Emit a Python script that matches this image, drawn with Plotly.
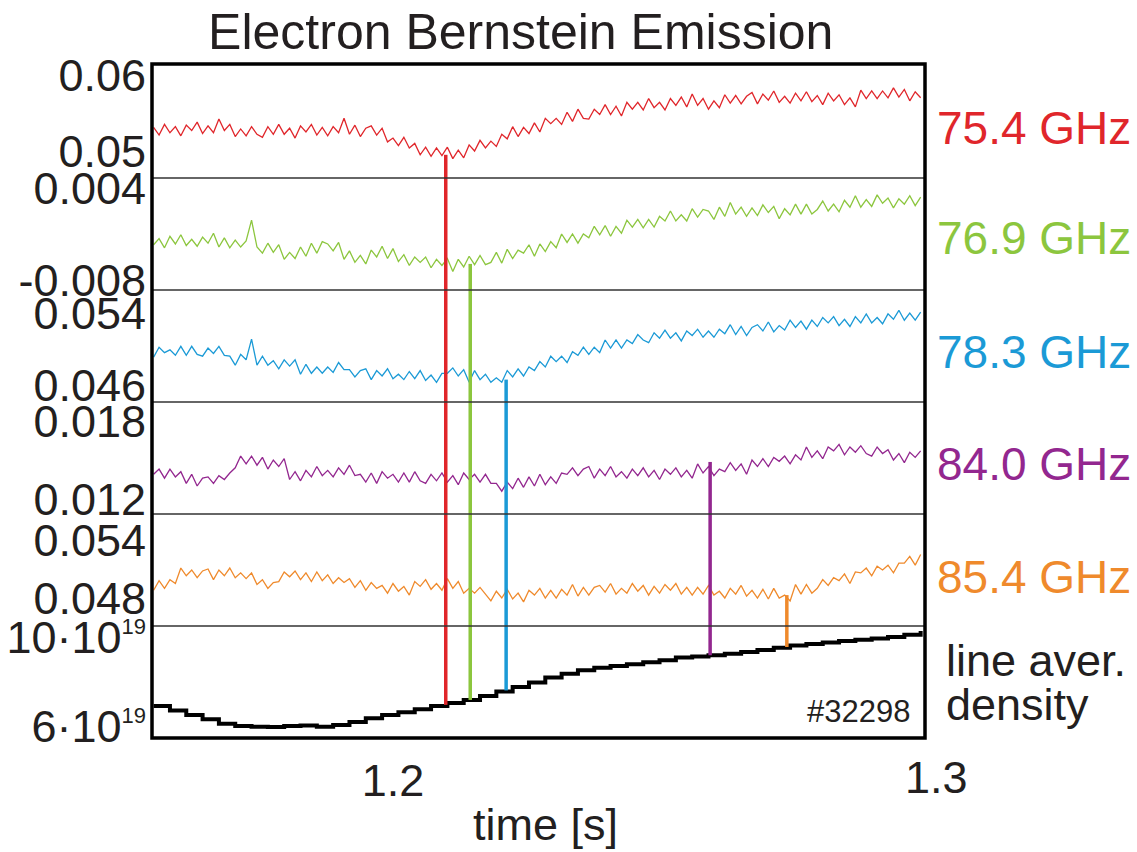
import numpy as np
import plotly.graph_objects as go

# ---------------- data ----------------
TIME_START, TIME_STEP = 1.156, 0.001      # s, sampling of the EBE channels
DENS_START, DENS_STEP = 1.156, 0.003      # s, sampling of the density trace

ebe_754 = [0.0531,0.0521,0.0535,0.0524,0.0532,0.0520,0.0534,0.0527,0.0538,0.0523,
 0.0533,0.0524,0.0542,0.0527,0.0535,0.0519,0.0529,0.0520,0.0532,0.0522,
 0.0518,0.0532,0.0522,0.0535,0.0522,0.0530,0.0517,0.0533,0.0525,0.0535,
 0.0521,0.0531,0.0520,0.0532,0.0524,0.0543,0.0522,0.0534,0.0519,0.0530,
 0.0533,0.0521,0.0530,0.0512,0.0517,0.0507,0.0518,0.0504,0.0510,0.0495,
 0.0505,0.0493,0.0504,0.0494,0.0505,0.0490,0.0501,0.0491,0.0508,0.0500,
 0.0514,0.0504,0.0513,0.0506,0.0522,0.0516,0.0532,0.0519,0.0531,0.0523,
 0.0537,0.0525,0.0543,0.0536,0.0543,0.0535,0.0551,0.0539,0.0555,0.0543,
 0.0542,0.0555,0.0548,0.0561,0.0548,0.0559,0.0546,0.0564,0.0555,0.0564,
 0.0554,0.0569,0.0557,0.0564,0.0554,0.0569,0.0560,0.0571,0.0558,0.0575,
 0.0560,0.0569,0.0555,0.0566,0.0557,0.0574,0.0563,0.0573,0.0562,0.0572,
 0.0577,0.0562,0.0575,0.0567,0.0579,0.0564,0.0572,0.0563,0.0576,0.0566,
 0.0578,0.0565,0.0573,0.0561,0.0576,0.0566,0.0574,0.0561,0.0570,0.0558,
 0.0580,0.0569,0.0579,0.0569,0.0579,0.0570,0.0583,0.0571,0.0581,0.0566,
 0.0578,0.0570]

ebe_769 = [-0.0034,-0.0026,-0.0038,-0.0023,-0.0033,-0.0021,-0.0035,-0.0027,-0.0036,-0.0024,
 -0.0032,-0.0019,-0.0037,-0.0025,-0.0038,-0.0028,-0.0037,-0.0029,-0.0002,-0.0037,
 -0.0045,-0.0032,-0.0044,-0.0034,-0.0053,-0.0044,-0.0052,-0.0037,-0.0049,-0.0032,
 -0.0045,-0.0030,-0.0033,-0.0042,-0.0031,-0.0053,-0.0042,-0.0057,-0.0048,-0.0059,
 -0.0041,-0.0050,-0.0036,-0.0052,-0.0039,-0.0056,-0.0047,-0.0061,-0.0050,-0.0057,
 -0.0050,-0.0064,-0.0053,-0.0061,-0.0052,-0.0069,-0.0053,-0.0063,-0.0049,-0.0060,
 -0.0048,-0.0060,-0.0057,-0.0044,-0.0058,-0.0040,-0.0052,-0.0041,-0.0045,-0.0034,
 -0.0049,-0.0033,-0.0043,-0.0030,-0.0038,-0.0020,-0.0031,-0.0020,-0.0032,-0.0020,
 -0.0025,-0.0010,-0.0021,-0.0009,-0.0023,-0.0010,-0.0019,-0.0002,-0.0011,-0.0001,
 -0.0012,-0.0001,-0.0011,0.0003,-0.0003,0.0010,-0.0003,0.0005,-0.0003,0.0013,
 0.0002,0.0012,0.0010,-0.0001,0.0015,0.0003,0.0021,0.0006,0.0015,0.0003,
 0.0014,0.0004,0.0018,0.0008,0.0016,0.0000,0.0013,0.0005,0.0019,0.0006,
 0.0019,0.0006,0.0012,0.0023,0.0010,0.0019,0.0009,0.0024,0.0015,0.0030,
 0.0015,0.0025,0.0016,0.0031,0.0020,0.0027,0.0014,0.0026,0.0019,0.0030,
 0.0017,0.0028]

ebe_783 = [0.0491,0.0502,0.0496,0.0499,0.0493,0.0503,0.0493,0.0503,0.0494,0.0492,
 0.0501,0.0495,0.0503,0.0493,0.0492,0.0482,0.0494,0.0488,0.0511,0.0482,
 0.0492,0.0482,0.0487,0.0478,0.0488,0.0481,0.0488,0.0472,0.0483,0.0473,
 0.0480,0.0473,0.0480,0.0474,0.0485,0.0477,0.0477,0.0469,0.0476,0.0478,
 0.0466,0.0476,0.0470,0.0478,0.0467,0.0472,0.0466,0.0475,0.0467,0.0476,
 0.0465,0.0471,0.0463,0.0473,0.0473,0.0479,0.0470,0.0477,0.0463,0.0476,
 0.0466,0.0472,0.0463,0.0468,0.0463,0.0476,0.0469,0.0478,0.0470,0.0480,
 0.0476,0.0486,0.0480,0.0492,0.0486,0.0492,0.0485,0.0497,0.0493,0.0502,
 0.0494,0.0502,0.0496,0.0510,0.0501,0.0510,0.0501,0.0510,0.0506,0.0516,
 0.0510,0.0507,0.0518,0.0512,0.0521,0.0512,0.0518,0.0509,0.0520,0.0515,
 0.0522,0.0513,0.0520,0.0513,0.0522,0.0517,0.0527,0.0516,0.0525,0.0515,
 0.0524,0.0527,0.0520,0.0530,0.0519,0.0526,0.0521,0.0532,0.0524,0.0531,
 0.0522,0.0532,0.0525,0.0535,0.0529,0.0536,0.0526,0.0533,0.0525,0.0536,
 0.0529,0.0539,0.0529,0.0535,0.0528,0.0539,0.0533,0.0543,0.0532,0.0540,
 0.0532,0.0541]

ebe_840 = [0.0139,0.0143,0.0136,0.0143,0.0137,0.0141,0.0132,0.0139,0.0130,0.0136,
 0.0137,0.0132,0.0138,0.0135,0.0140,0.0144,0.0153,0.0147,0.0153,0.0146,
 0.0152,0.0143,0.0150,0.0145,0.0151,0.0135,0.0141,0.0134,0.0142,0.0137,
 0.0145,0.0138,0.0142,0.0137,0.0144,0.0139,0.0146,0.0138,0.0139,0.0133,
 0.0140,0.0132,0.0141,0.0136,0.0139,0.0133,0.0140,0.0133,0.0141,0.0134,
 0.0132,0.0139,0.0134,0.0140,0.0133,0.0138,0.0131,0.0140,0.0135,0.0139,
 0.0133,0.0139,0.0132,0.0132,0.0126,0.0133,0.0128,0.0136,0.0129,0.0137,
 0.0130,0.0139,0.0131,0.0137,0.0132,0.0140,0.0139,0.0144,0.0138,0.0143,
 0.0145,0.0136,0.0143,0.0138,0.0145,0.0137,0.0141,0.0136,0.0143,0.0138,
 0.0144,0.0137,0.0142,0.0135,0.0143,0.0139,0.0144,0.0137,0.0142,0.0136,
 0.0147,0.0140,0.0145,0.0138,0.0143,0.0141,0.0148,0.0142,0.0147,0.0139,
 0.0150,0.0145,0.0151,0.0145,0.0152,0.0149,0.0153,0.0147,0.0154,0.0150,
 0.0160,0.0152,0.0157,0.0151,0.0160,0.0157,0.0162,0.0154,0.0160,0.0156,
 0.0161,0.0155,0.0153,0.0160,0.0155,0.0158,0.0150,0.0155,0.0148,0.0156,
 0.0152,0.0157]

ebe_854 = [0.0488,0.0498,0.0490,0.0499,0.0495,0.0511,0.0503,0.0509,0.0501,0.0508,
 0.0510,0.0499,0.0509,0.0503,0.0511,0.0501,0.0506,0.0500,0.0506,0.0494,
 0.0499,0.0490,0.0496,0.0497,0.0507,0.0502,0.0508,0.0499,0.0506,0.0497,
 0.0507,0.0498,0.0504,0.0495,0.0501,0.0496,0.0500,0.0491,0.0498,0.0488,
 0.0496,0.0490,0.0493,0.0485,0.0495,0.0487,0.0492,0.0483,0.0497,0.0492,
 0.0499,0.0489,0.0495,0.0488,0.0500,0.0490,0.0497,0.0485,0.0490,0.0485,
 0.0491,0.0484,0.0477,0.0487,0.0480,0.0489,0.0479,0.0485,0.0476,0.0488,
 0.0483,0.0490,0.0480,0.0488,0.0480,0.0489,0.0483,0.0494,0.0482,0.0491,
 0.0483,0.0491,0.0493,0.0486,0.0495,0.0484,0.0490,0.0485,0.0495,0.0487,
 0.0493,0.0483,0.0492,0.0485,0.0494,0.0488,0.0495,0.0484,0.0491,0.0483,
 0.0491,0.0484,0.0493,0.0483,0.0487,0.0480,0.0490,0.0484,0.0493,0.0482,
 0.0488,0.0480,0.0489,0.0479,0.0490,0.0480,0.0483,0.0477,0.0494,0.0484,
 0.0494,0.0485,0.0490,0.0499,0.0493,0.0501,0.0498,0.0505,0.0495,0.0507,
 0.0506,0.0511,0.0503,0.0513,0.0509,0.0514,0.0506,0.0516,0.0516,0.0523,
 0.0514,0.0525]

# line averaged density, units of 1e19 m^-3
density = [6.90,6.70,6.50,6.30,6.10,6.00,5.97,5.95,6.00,6.02,
 5.97,6.05,6.18,6.35,6.50,6.62,6.75,6.90,7.03,7.17,
 7.35,7.55,7.75,7.95,8.18,8.35,8.50,8.62,8.70,8.78,
 8.86,8.95,9.08,9.12,9.18,9.25,9.33,9.42,9.52,9.62,
 9.68,9.75,9.82,9.88,9.93,10.00,10.10,10.27]

channel_labels = ["75.4 GHz", "76.9 GHz", "78.3 GHz", "84.0 GHz", "85.4 GHz"]
channel_colors = ["#e0262b", "#8cc63e", "#1b9ad6", "#93278f", "#ef8a2c"]
channel_data = [ebe_754, ebe_769, ebe_783, ebe_840, ebe_854]

# y tick values / labels of the six stacked panels
SUP = '<sup><span style="font-size:22px">19</span></sup>'
tick_vals = [[0.05, 0.06], [-0.008, 0.004], [0.046, 0.054], [0.012, 0.018],
             [0.048, 0.054], [6, 10]]
tick_text = [["0.05", "0.06"], ["-0.008", "0.004"], ["0.046", "0.054"],
             ["0.012", "0.018"], ["0.048", "0.054"],
             ["6·10" + SUP, "10·10" + SUP]]

# times where each channel's cut-off is marked, and the marked values
mark_time = [1.2097, 1.2142, 1.2208, 1.2583, 1.2724]
mark_signal = [0.0495, -0.0059, 0.0466, 0.01485, 0.0483]
mark_density = [6.95, 7.17, 7.60, 9.18, 9.55]

# ---------------- layout geometry ----------------
y_ranges = [[0.046447, 0.061447], [-0.009304, 0.005304], [0.044111, 0.056556],
            [0.010846, 0.019462], [0.045104, 0.056690], [5.461, 10.494]]
y_domains = [[0.83086, 1.0], [0.66469, 0.83086], [0.49852, 0.66469],
             [0.33234, 0.49852], [0.16617, 0.33234], [0.0, 0.16617]]
x_range = [1.1557, 1.2978]

time = np.round(TIME_START + TIME_STEP * np.arange(len(ebe_754)), 4)
dens_time = np.round(DENS_START + DENS_STEP * np.arange(len(density)), 4)

FONT = "Liberation Sans, Arial, Helvetica, sans-serif"
TXT = "#231f20"

fig = go.Figure()
yid = ["y", "y2", "y3", "y4", "y5", "y6"]

for k, (vals, col) in enumerate(zip(channel_data, channel_colors)):
    fig.add_trace(go.Scatter(x=time, y=vals, mode="lines", xaxis="x", yaxis=yid[k],
                             line=dict(color=col, width=1.3), hoverinfo="skip",
                             showlegend=False))

fig.add_trace(go.Scatter(x=dens_time, y=density, mode="lines", xaxis="x", yaxis="y6",
                         line=dict(color="black", width=4, shape="hv"),
                         hoverinfo="skip", showlegend=False))

# vertical marker lines, drawn panel by panel down to the density trace
for k in range(5):
    t = mark_time[k]
    col = channel_colors[k]
    for p in range(k, 6):
        lo, hi = y_ranges[p]
        if p == k:
            ys = [mark_signal[k], lo]
        elif p == 5:
            ys = [hi, mark_density[k]]
        else:
            ys = [hi, lo]
        fig.add_trace(go.Scatter(x=[t, t], y=ys, mode="lines", xaxis="x", yaxis=yid[p],
                                 line=dict(color=col, width=3.5), hoverinfo="skip",
                                 showlegend=False))

layout = dict(
    width=1137, height=852,
    margin=dict(l=152, r=212, t=64, b=114, autoexpand=False),
    paper_bgcolor="white", plot_bgcolor="white",
    showlegend=False,
    title=dict(text="Electron Bernstein Emission", x=0.458, y=0.9636,
               xanchor="center", yanchor="middle", xref="container", yref="container",
               font=dict(family=FONT, size=50, color=TXT)),
    xaxis=dict(domain=[0, 1], range=x_range, anchor="y6", showgrid=False, zeroline=False,
               showline=False, ticks="", tickvals=[1.2], ticktext=["1.2"],
               ticklabelstandoff=12, automargin=False,
               tickfont=dict(family=FONT, size=45, color=TXT)),
)
for p in range(6):
    name = "yaxis" if p == 0 else f"yaxis{p + 1}"
    layout[name] = dict(domain=y_domains[p], range=y_ranges[p], anchor="x",
                        showgrid=False, zeroline=False, showline=False, ticks="",
                        tickvals=tick_vals[p], ticktext=tick_text[p],
                        ticklabelstandoff=5, automargin=False,
                        tickfont=dict(family=FONT, size=45, color=TXT))
fig.update_layout(**layout)

# panel separators and outer frame
for p in range(1, 6):
    fig.add_shape(type="line", xref="paper", x0=0, x1=1,
                  yref=f"y{p + 1} domain", y0=1, y1=1,
                  line=dict(color="#333333", width=1.3), layer="above")
fig.add_shape(type="rect", xref="paper", yref="paper", x0=0, x1=1, y0=0, y1=1,
              line=dict(color="black", width=3.5), layer="above")

# channel labels on the right
label_y = [0.905, 0.7418, 0.5727, 0.4065, 0.2389]
for lab, col, yy in zip(channel_labels, channel_colors, label_y):
    fig.add_annotation(text=lab, xref="paper", yref="paper", x=1.0129, y=yy,
                       xanchor="left", yanchor="middle", showarrow=False,
                       font=dict(family=FONT, size=46, color=col))
fig.add_annotation(text="line aver.", xref="paper", yref="paper", x=1.024, y=0.1157,
                   xanchor="left", yanchor="middle", showarrow=False,
                   font=dict(family=FONT, size=45, color=TXT))
fig.add_annotation(text="density", xref="paper", yref="paper", x=1.024, y=0.049,
                   xanchor="left", yanchor="middle", showarrow=False,
                   font=dict(family=FONT, size=45, color=TXT))
fig.add_annotation(text="#32298", xref="paper", yref="paper", x=0.9832, y=0.0386,
                   xanchor="right", yanchor="middle", showarrow=False,
                   font=dict(family=FONT, size=31, color=TXT))
# last x tick label (sits just beyond the frame)
fig.add_annotation(text="1.3", xref="paper", yref="paper", x=1.0, y=-0.0593,
                   xshift=11, xanchor="center", yanchor="middle", showarrow=False,
                   font=dict(family=FONT, size=45, color=TXT))
fig.add_annotation(text="time [s]", xref="paper", yref="paper", x=0.5097, y=-0.129,
                   xanchor="center", yanchor="middle", showarrow=False,
                   font=dict(family=FONT, size=45, color=TXT))

fig.write_html("out.html")
